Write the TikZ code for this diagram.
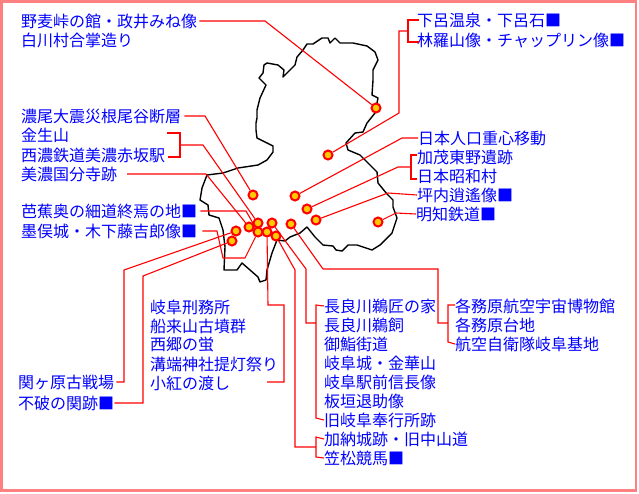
\documentclass[tikz,border=0pt]{standalone}
\usepackage{fontspec}
\setmainfont{Noto Sans CJK JP}
\definecolor{frame}{RGB}{255,128,128}
\definecolor{spotfill}{RGB}{255,200,0}
\tikzset{
  place/.style={anchor=west,inner sep=0pt,text=blue,font=\fontsize{16}{16}\selectfont},
  spot/.style={circle,draw=red,fill=spotfill,line width=2pt,minimum size=9pt,inner sep=0pt},
  link/.style={draw=red,line width=1.1pt},
  shore/.style={draw=black,line width=1.4pt,line join=round}
}
\begin{document}
\begin{tikzpicture}[x=1pt,y=-1pt]
	\useasboundingbox (0,0) rectangle (639,493);
	\draw[frame,line width=2.6pt] (1.3,1.3) rectangle (636,490.5);
	% prefecture outline
	\draw[shore] (264,65) -- (263,73) -- (259,78) -- (266,85) -- (260,98) -- (257,110) -- (257,118) -- (256,123) -- (256,130) -- (257,138) -- (267,143) -- (273,146) -- (273,152) -- (267,160) -- (258,165) -- (238,168) -- (223,173) -- (207,175) -- (202,188) -- (200,200) -- (208,205) -- (209,215) -- (219,218) -- (223,230) -- (225,247) -- (224,270) -- (237,270) -- (242,263) -- (258,277) -- (260,282) -- (266,280) -- (267,270) -- (272,253) -- (277,240) -- (285,241) -- (290,237) -- (300,233) -- (307,227) -- (315,237) -- (323,245) -- (333,246) -- (336,250) -- (342,251) -- (348,245) -- (357,245) -- (372,250) -- (380,245) -- (392,233) -- (397,218) -- (393,207) -- (393,200) -- (387,194) -- (378,183) -- (377,172) -- (360,155) -- (348,150) -- (346,143) -- (355,133) -- (363,132) -- (367,123) -- (375,113) -- (378,98) -- (372,95) -- (373,80) -- (373,70) -- (378,60) -- (375,52) -- (367,46) -- (353,43) -- (340,43) -- (335,38) -- (330,43) -- (328,38) -- (322,38) -- (313,44) -- (307,44) -- (303,50) -- (297,57) -- (295,65) -- (283,77) -- (284,70) -- (278,65) -- (267,63) -- cycle;
	% spots
	\node[spot] (nomugi) at (376,108) {};
	\node[spot] (gero) at (328,155) {};
	\node[spot] (jinko) at (295,196) {};
	\node[spot] (kamo) at (307,209) {};
	\node[spot] (tsubo) at (316,220) {};
	\node[spot] (akechi) at (378,222) {};
	\node[spot] (kagami) at (291,224) {};
	\node[spot] (nagara) at (272,223) {};
	\node[spot] (noubi) at (253,195) {};
	\node[spot] (kinsho) at (258,223) {};
	\node[spot] (kokubun) at (249,227) {};
	\node[spot] (basho) at (258,232) {};
	\node[spot] (gifu) at (267,232) {};
	\node[spot] (kano) at (276,236) {};
	\node[spot] (seki) at (236,231) {};
	\node[spot] (fuwa) at (232,241) {};
	% places on the left
	\node[place] (nomugitext) at (21,21) {野麦峠の館・政井みね像};
	\node[place] at (21,40) {白川村合掌造り};
	\node[place] (noubitext) at (21,116) {濃尾大震災根尾谷断層};
	\node[place] (kinshotext) at (21,135) {金生山};
	\node[place] (seinotext) at (21,155) {西濃鉄道美濃赤坂駅};
	\node[place] (kokubuntext) at (21,174) {美濃国分寺跡};
	\node[place] (bashotext) at (21,211) {芭蕉奥の細道終焉の地■};
	\node[place] (sunomatatext) at (21,231) {墨俣城・木下藤吉郎像■};
	\node[place] (sekitext) at (18,382) {関ヶ原古戦場};
	\node[place] (fuwatext) at (18,403) {不破の関跡■};
	\node[place] at (150,307) {岐阜刑務所};
	\node[place] at (150,326) {船来山古墳群};
	\node[place] at (150,345) {西郷の蛍};
	\node[place] at (150,364) {溝端神社提灯祭り};
	\node[place] (kobenitext) at (150,383) {小紅の渡し};
	% places on the right
	\node[place] (gerotext) at (417,20) {下呂温泉・下呂石■};
	\node[place] (rantext) at (417,40) {林羅山像・チャップリン像■};
	\node[place] (jinkotext) at (418,138) {日本人口重心移動};
	\node[place] (kamotext) at (417,157) {加茂東野遺跡};
	\node[place] (showatext) at (417,176) {日本昭和村};
	\node[place] (tsubotext) at (417,195) {坪内逍遙像■};
	\node[place] (akechitext) at (416,214) {明知鉄道■};
	\node[place] (ukaitext) at (324,306) {長良川鵜匠の家};
	\node[place] at (324,325) {長良川鵜飼};
	\node[place] at (324,344) {御鮨街道};
	\node[place] at (324,363) {岐阜城・金華山};
	\node[place] at (324,382) {岐阜駅前信長像};
	\node[place] at (324,401) {板垣退助像};
	\node[place] (bugyotext) at (324,420) {旧岐阜奉行所跡};
	\node[place] (kanotext) at (324,439) {加納城跡・旧中山道};
	\node[place] (kasatext) at (324,458) {笠松競馬■};
	\node[place] (kagamitext) at (455,306) {各務原航空宇宙博物館};
	\node[place] at (455,325) {各務原台地};
	\node[place] (jieitext) at (455,344) {航空自衛隊岐阜基地};
	% free ends
	\coordinate (kinshoend) at (167,133);
	\coordinate (seinoend) at (168,157);
	\coordinate (kokubunend) at (127,174);
	\coordinate (kobeniend) at (267,382);
	\coordinate (gerotop) at (419,20);
	\coordinate (geroend) at (419,42);
	% connectors
	\draw[link] (nomugitext.east) ++(2,0) -- (265,21) -- (nomugi);
	\draw[link] (noubitext.east) ++(3,0) -- (205,116) -- (noubi);
	\draw[link] (kinshoend) -- (180,133) -- (180,157) -- (seinoend);
	\draw[link] (180,145) -- (203,145) -- (kinsho);
	\draw[link] (kokubunend) -- (206,174) -- (kokubun);
	\draw[link] (bashotext.east) ++(3,0) -- (246,211) -- (basho);
	\draw[link] (sunomatatext.east) ++(5,0) -- (217,231) -- (223,258) -- (245,258) -- (basho);
	\draw[link] (sekitext.east) ++(2,0) -- (124,382) -- (124,270) -- (seki);
	\draw[link] (fuwatext.east) -- (143,403) -- (143,276) -- (fuwa);
	\draw[link] (kobeniend) -- (284,382) -- (284,305) -- (268,305) -- (gifu);
	\draw[link] (gerotop) -- (408,20) -- (408,42) -- (geroend);
	\draw[link] (408,31) -- (399,31) -- (399,113) -- (gero);
	\draw[link] (jinkotext.west) -- (402,138) -- (jinko);
	\draw[link] (417,155) -- (411,155) -- (411,179) -- (417,179);
	\draw[link] (411,167) -- (398,167) -- (kamo);
	\draw[link] (tsubotext.west) -- (388,193) -- (tsubo);
	\draw[link] (akechitext.west) -- (396,213) -- (akechi);
	\draw[link] (455,305) -- (448,305) -- (448,342) -- (jieitext.west);
	\draw[link] (448,323) -- (438,323) -- (438,269) -- (323,269) -- (kagami);
	\draw[link] (ukaitext.west) -- (316,305) -- (316,418) -- (bugyotext.west);
	\draw[link] (316,323) -- (306,323) -- (306,269) -- (nagara);
	\draw[link] (kanotext.west) -- (316,437) -- (316,457) -- (kasatext.west);
	\draw[link] (316,447) -- (295,447) -- (295,270) -- (kano);
\end{tikzpicture}
\end{document}
